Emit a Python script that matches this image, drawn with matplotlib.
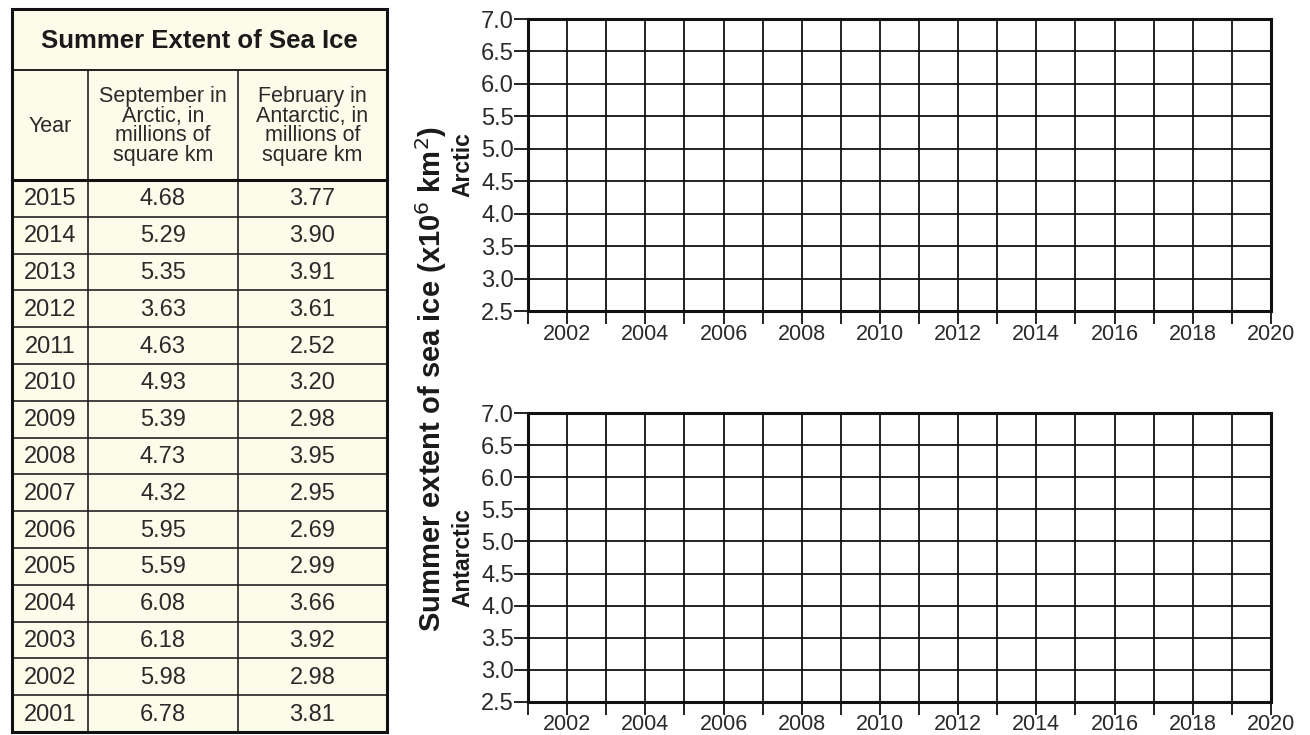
import matplotlib
matplotlib.use("Agg")
import matplotlib.pyplot as plt
from matplotlib.patches import Rectangle

plt.rcParams['font.family'] = ['Liberation Sans', 'DejaVu Sans']

# ---- data ----
years = [2015, 2014, 2013, 2012, 2011, 2010, 2009, 2008, 2007, 2006, 2005, 2004, 2003, 2002, 2001]
arctic_sep = ["4.68", "5.29", "5.35", "3.63", "4.63", "4.93", "5.39", "4.73", "4.32", "5.95", "5.59", "6.08", "6.18", "5.98", "6.78"]
antarctic_feb = ["3.77", "3.90", "3.91", "3.61", "2.52", "3.20", "2.98", "3.95", "2.95", "2.69", "2.99", "3.66", "3.92", "2.98", "3.81"]
table_title = "Summer Extent of Sea Ice"
col_headers = ["Year", "September in\nArctic, in\nmillions of\nsquare km", "February in\nAntarctic, in\nmillions of\nsquare km"]

x_min, x_max = 2001, 2020
x_ticks = list(range(2001, 2021))
x_labels = [str(y) if y % 2 == 0 else "" for y in x_ticks]
y_ticks = [2.5, 3.0, 3.5, 4.0, 4.5, 5.0, 5.5, 6.0, 6.5, 7.0]
panel_names = ["Arctic", "Antarctic"]
shared_ylabel = "Summer extent of sea ice (x10$^{6}$ km$^{2}$)"

W, H = 1310, 735
fig = plt.figure(figsize=(W / 100, H / 100), dpi=100)
fig.patch.set_facecolor("white")

# ---- table (pixel-coordinate overlay) ----
tax = fig.add_axes([0, 0, 1, 1])
tax.set_xlim(0, W)
tax.set_ylim(H, 0)
tax.axis("off")

L, R = 12, 387
T, title_b, head_b, B = 9, 70, 180, 732
cols = [L, 88, 238, R]
cream = "#fdfbea"
tax.add_patch(Rectangle((L, T), R - L, B - T, facecolor=cream, edgecolor="none", zorder=0))
tax.text((L + R) / 2, (T + title_b) / 2 + 1, table_title, ha="center", va="center",
         fontsize=18.5, fontweight="bold", color="#1a1a1a")
for i, h in enumerate(col_headers):
    tax.text((cols[i] + cols[i + 1]) / 2, (title_b + head_b) / 2 + 1, h, ha="center", va="center",
             fontsize=15.5, color="#2a2a2a", linespacing=0.92)
nrows = len(years)
rh = (B - head_b) / nrows
for r in range(nrows):
    yc = head_b + (r + 0.5) * rh + 1
    vals = [str(years[r]), arctic_sep[r], antarctic_feb[r]]
    for c, v in enumerate(vals):
        tax.text((cols[c] + cols[c + 1]) / 2, yc, v, ha="center", va="center",
                 fontsize=17, color="#2a2a2a")
    if r > 0:
        yl = head_b + r * rh
        tax.plot([L, R], [yl, yl], color="#222222", lw=1.2, zorder=2)
# column separators
for xc in cols[1:-1]:
    tax.plot([xc, xc], [title_b, B], color="#222222", lw=1.2, zorder=2)
tax.plot([L, R], [title_b, title_b], color="#222222", lw=1.4, zorder=2)
tax.plot([L, R], [head_b, head_b], color="#111111", lw=2.2, zorder=2)
tax.add_patch(Rectangle((L, T), R - L, B - T, facecolor="none", edgecolor="#111111", lw=2.2, zorder=3))

# ---- empty graph grids ----
ax_left, ax_right = 528, 1271
panels = [(19, 311), (413, 702)]
axes = []
for (top, bot), name in zip(panels, panel_names):
    ax = fig.add_axes([ax_left / W, 1 - bot / H, (ax_right - ax_left) / W, (bot - top) / H])
    ax.set_xlim(x_min, x_max)
    ax.set_ylim(y_ticks[0], y_ticks[-1])
    ax.set_xticks(x_ticks)
    ax.set_xticklabels(x_labels)
    ax.set_yticks(y_ticks)
    ax.set_yticklabels([f"{v:.1f}" for v in y_ticks])
    ax.grid(True, color="#111111", lw=1.3)
    ax.set_axisbelow(True)
    for s in ax.spines.values():
        s.set_linewidth(2.2)
        s.set_color("#111111")
    ax.tick_params(axis="x", direction="out", length=9, width=1.3, pad=0, labelsize=15.5, colors="#111111",
                   labelcolor="#2a2a2a")
    ax.tick_params(axis="y", direction="out", length=10, width=1.3, pad=0, labelsize=17, colors="#111111",
                   labelcolor="#2a2a2a")
    axes.append(ax)
    # panel name, centred on the panel, left of the tick labels
    fig.text(463 / W, 1 - (top + bot) / 2 / H, name, rotation=90, ha="center", va="center",
             fontsize=16.5, fontweight="bold", color="#1a1a1a")

fig.text(431 / W, 1 - 379 / H, shared_ylabel, rotation=90, ha="center", va="center",
         fontsize=21, fontweight="bold", color="#1a1a1a")

fig.savefig("out.png", dpi=100, facecolor="white")
